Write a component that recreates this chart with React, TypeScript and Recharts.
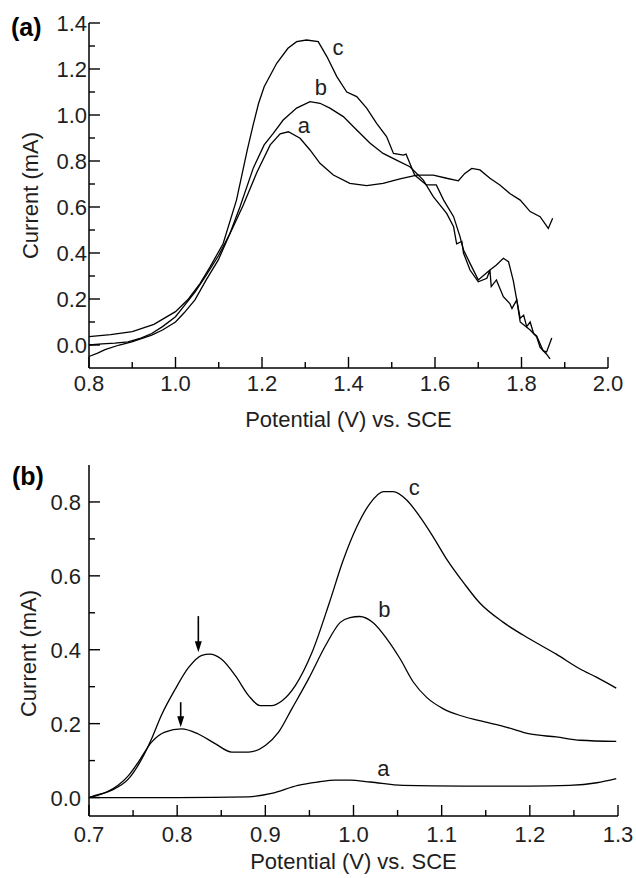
import React from 'react';
import { LineChart, Line, XAxis, YAxis, ReferenceDot, ReferenceLine } from 'recharts';

const FONT = '"Liberation Sans", Arial, Helvetica, sans-serif';
const INK = '#1e1e1e';

// ---------- Panel (a) data ----------
const aPotA = [0.8, 0.83, 0.86, 0.89, 0.92, 0.945, 0.97, 1.0, 1.02, 1.045, 1.07, 1.1, 1.13, 1.157, 1.188, 1.219, 1.242, 1.261, 1.288, 1.311, 1.334, 1.365, 1.403, 1.442, 1.48, 1.519, 1.558, 1.596, 1.627, 1.654, 1.669, 1.685, 1.704, 1.727, 1.75, 1.773, 1.797, 1.82, 1.843, 1.862, 1.872];
const aCurA = [0.0, 0.005, 0.008, 0.014, 0.03, 0.05, 0.08, 0.123, 0.17, 0.23, 0.3, 0.39, 0.5, 0.61, 0.75, 0.87, 0.918, 0.927, 0.899, 0.848, 0.79, 0.739, 0.703, 0.693, 0.703, 0.722, 0.739, 0.739, 0.725, 0.714, 0.746, 0.768, 0.761, 0.725, 0.696, 0.659, 0.63, 0.58, 0.558, 0.507, 0.551];

const aPotB = [0.8, 0.82, 0.837, 0.87, 0.899, 0.945, 0.97, 1.0, 1.02, 1.045, 1.07, 1.099, 1.125, 1.149, 1.18, 1.205, 1.226, 1.249, 1.28, 1.311, 1.334, 1.357, 1.388, 1.419, 1.45, 1.48, 1.511, 1.542, 1.573, 1.596, 1.627, 1.643, 1.65, 1.662, 1.666, 1.681, 1.7, 1.72, 1.727, 1.73, 1.742, 1.758, 1.773, 1.778, 1.789, 1.797, 1.805, 1.812, 1.82, 1.828, 1.835, 1.85, 1.858, 1.87];
const aCurB = [-0.05, -0.035, -0.02, 0.0, 0.014, 0.043, 0.065, 0.1, 0.14, 0.196, 0.28, 0.37, 0.48, 0.6, 0.77, 0.87, 0.92, 0.978, 1.03, 1.058, 1.051, 1.03, 0.993, 0.935, 0.877, 0.833, 0.804, 0.775, 0.717, 0.645, 0.572, 0.514, 0.44, 0.45, 0.399, 0.326, 0.275, 0.29, 0.326, 0.254, 0.283, 0.21, 0.18, 0.159, 0.196, 0.116, 0.13, 0.08, 0.1, 0.05, 0.04, -0.025, -0.03, 0.03];

const aPotC = [0.8, 0.85, 0.9, 0.95, 1.0, 1.03, 1.057, 1.08, 1.11, 1.141, 1.166, 1.18, 1.192, 1.205, 1.234, 1.26, 1.28, 1.303, 1.33, 1.35, 1.373, 1.396, 1.419, 1.442, 1.465, 1.488, 1.504, 1.527, 1.533, 1.553, 1.58, 1.603, 1.62, 1.643, 1.658, 1.662, 1.666, 1.681, 1.7, 1.727, 1.742, 1.758, 1.77, 1.781, 1.789, 1.797, 1.82, 1.835, 1.843, 1.858, 1.866];
const aCurC = [0.036, 0.045, 0.058, 0.09, 0.145, 0.2, 0.268, 0.34, 0.44, 0.63, 0.848, 0.96, 1.05, 1.123, 1.225, 1.29, 1.319, 1.326, 1.319, 1.254, 1.167, 1.1, 1.08, 1.03, 0.964, 0.906, 0.833, 0.826, 0.83, 0.739, 0.696, 0.696, 0.63, 0.558, 0.47, 0.44, 0.413, 0.355, 0.283, 0.326, 0.348, 0.377, 0.362, 0.28, 0.196, 0.1, 0.065, 0.036, -0.01, -0.04, -0.06];

const aXMajor = [0.8, 1.0, 1.2, 1.4, 1.6, 1.8, 2.0];
const aXMinor = [0.9, 1.1, 1.3, 1.5, 1.7, 1.9];
const aYMajor = [0.0, 0.2, 0.4, 0.6, 0.8, 1.0, 1.2, 1.4];
const aYMinor = [0.1, 0.3, 0.5, 0.7, 0.9, 1.1, 1.3];

const aLabelText = ['a', 'b', 'c'];
const aLabelPot = [1.297, 1.336, 1.376];
const aLabelCur = [0.92, 1.087, 1.261];

// ---------- Panel (b) data ----------
const bPotA = [0.7, 0.8, 0.881, 0.907, 0.937, 0.96, 0.979, 0.996, 1.019, 1.056, 1.125, 1.2, 1.245, 1.276, 1.298];
const bCurA = [0.0, 0.0, 0.002, 0.011, 0.033, 0.042, 0.047, 0.047, 0.042, 0.033, 0.031, 0.031, 0.033, 0.04, 0.051];

const bPotB = [0.7, 0.707, 0.72, 0.733, 0.745, 0.756, 0.771, 0.786, 0.805, 0.824, 0.843, 0.862, 0.881, 0.9, 0.915, 0.93, 0.949, 0.968, 0.985, 0.996, 1.007, 1.022, 1.038, 1.053, 1.068, 1.083, 1.102, 1.121, 1.143, 1.174, 1.2, 1.23, 1.257, 1.298];
const bCurB = [0.0, 0.006, 0.015, 0.033, 0.06, 0.096, 0.15, 0.177, 0.186, 0.172, 0.146, 0.123, 0.123, 0.141, 0.177, 0.24, 0.321, 0.41, 0.474, 0.487, 0.49, 0.474, 0.429, 0.375, 0.312, 0.271, 0.24, 0.222, 0.208, 0.19, 0.172, 0.164, 0.155, 0.152];

const bPotC = [0.7, 0.715, 0.726, 0.745, 0.76, 0.771, 0.782, 0.798, 0.813, 0.828, 0.837, 0.85, 0.866, 0.881, 0.894, 0.907, 0.919, 0.934, 0.953, 0.973, 0.988, 1.004, 1.019, 1.034, 1.045, 1.06, 1.075, 1.09, 1.106, 1.125, 1.143, 1.17, 1.2, 1.23, 1.257, 1.276, 1.298];
const bCurC = [0.0, 0.01, 0.02, 0.051, 0.105, 0.159, 0.222, 0.294, 0.352, 0.385, 0.388, 0.375, 0.33, 0.276, 0.249, 0.249, 0.262, 0.303, 0.393, 0.53, 0.64, 0.734, 0.797, 0.828, 0.828, 0.806, 0.761, 0.707, 0.644, 0.581, 0.527, 0.474, 0.429, 0.388, 0.348, 0.325, 0.296];

const bXMajor = [0.7, 0.8, 0.9, 1.0, 1.1, 1.2, 1.3];
const bXMinor = [0.75, 0.85, 0.95, 1.05, 1.15, 1.25];
const bYMajor = [0.0, 0.2, 0.4, 0.6, 0.8];
const bYMinor = [0.1, 0.3, 0.5, 0.7];

const bLabelText = ['a', 'b', 'c'];
const bLabelPot = [1.034, 1.035, 1.069];
const bLabelCur = [0.057, 0.488, 0.819];

const bArrowPot = [0.824, 0.804];
const bArrowFrom = [0.491, 0.258];
const bArrowTo = [0.393, 0.19];

// ---------- helpers ----------
const zip = (xs: number[], ys: number[]) => xs.map((x, i) => ({ x, y: ys[i] }));
const isIn = (arr: number[], v: number) => arr.some((m) => Math.abs(m - v) < 1e-6);
const merge = (a: number[], b: number[]) => [...a, ...b].sort((p, q) => p - q);

const MAJOR = 11;
const MINOR = 6;
const FS = 22;

function makeYTick(majors: number[], gap: number) {
  return (props: any) => {
    const { x, y, payload } = props;
    const major = isIn(majors, payload.value);
    return (
      <g>
        <line x1={x} y1={y} x2={x + (major ? MAJOR : MINOR)} y2={y} stroke="#000" strokeWidth={1.4} />
        {major && (
          <text x={x - gap} y={y + 8} textAnchor="end" fontSize={FS} fontFamily={FONT} fill={INK}>
            {Number(payload.value).toFixed(1)}
          </text>
        )}
      </g>
    );
  };
}

function makeXTick(majors: number[], base: number) {
  return (props: any) => {
    const { x, y, payload } = props;
    const major = isIn(majors, payload.value);
    return (
      <g>
        <line x1={x} y1={y} x2={x} y2={y - (major ? MAJOR : MINOR)} stroke="#000" strokeWidth={1.4} />
        {major && (
          <text x={x} y={y + base} textAnchor="middle" fontSize={FS} fontFamily={FONT} fill={INK}>
            {Number(payload.value).toFixed(1)}
          </text>
        )}
      </g>
    );
  };
}

function xTitle(dy: number) {
  return (props: any) => {
    const vb = props.viewBox;
    return (
      <text x={vb.x + vb.width / 2} y={vb.y + dy} textAnchor="middle" fontSize={FS} fontFamily={FONT} fill={INK}>
        Potential (V) vs. SCE
      </text>
    );
  };
}

function yTitle(dx: number, dyc: number) {
  return (props: any) => {
    const vb = props.viewBox;
    const cx = vb.x + dx;
    const cy = vb.y + vb.height / 2 + dyc;
    return (
      <text
        x={cx}
        y={cy}
        transform={`rotate(-90, ${cx}, ${cy})`}
        textAnchor="middle"
        dominantBaseline="central"
        fontSize={FS}
        fontFamily={FONT}
        fill={INK}
      >
        Current (mA)
      </text>
    );
  };
}

const curveLabel = (txt: string) => (props: any) => (
  <text x={props.cx} y={props.cy} textAnchor="middle" fontSize={FS} fontFamily={FONT} fill={INK}>
    {txt}
  </text>
);

const arrowShape = (props: any) => {
  const { x1, y1, x2, y2 } = props;
  const head = 11;
  return (
    <g>
      <line x1={x1} y1={y1} x2={x2} y2={y2 - head + 2} stroke="#000" strokeWidth={1.6} />
      <polygon points={`${x2 - 3.5},${y2 - head} ${x2 + 3.5},${y2 - head} ${x2},${y2}`} fill="#000" />
    </g>
  );
};

const lineProps = {
  dataKey: 'y',
  stroke: '#000',
  strokeWidth: 1.3,
  dot: false,
  activeDot: false,
  isAnimationActive: false,
} as const;

export default function App() {
  return (
    <div style={{ position: 'absolute', left: 0, top: 0, width: 636, height: 878, background: '#fff' }}>
      <div style={{ position: 'absolute', left: 0, top: 0 }}>
        <LineChart width={636} height={440} margin={{ top: 23, right: 28, bottom: 0, left: 29 }}>
          <XAxis
            type="number"
            dataKey="x"
            domain={[0.8, 2.0]}
            ticks={merge(aXMajor, aXMinor)}
            interval={0}
            height={72}
            tickSize={0}
            tickMargin={0}
            tickLine={false}
            axisLine={{ stroke: '#000', strokeWidth: 1.5 }}
            tick={makeXTick(aXMajor, 23)}
            label={{ content: xTitle(59) }}
          />
          <YAxis
            type="number"
            domain={[-0.1, 1.4]}
            ticks={merge(aYMajor, aYMinor)}
            interval={0}
            width={60}
            tickSize={0}
            tickMargin={0}
            tickLine={false}
            axisLine={{ stroke: '#000', strokeWidth: 1.5 }}
            tick={makeYTick(aYMajor, 2)}
            label={{ content: yTitle(1, 0) }}
          />
          <Line data={zip(aPotA, aCurA)} type="linear" {...lineProps} />
          <Line data={zip(aPotB, aCurB)} type="linear" {...lineProps} />
          <Line data={zip(aPotC, aCurC)} type="linear" {...lineProps} />
          {aLabelText.map((t, i) => (
            <ReferenceDot key={t} x={aLabelPot[i]} y={aLabelCur[i]} r={1} shape={curveLabel(t)} />
          ))}
        </LineChart>
      </div>
      <div style={{ position: 'absolute', left: 0, top: 440 }}>
        <LineChart width={636} height={438} margin={{ top: 25, right: 18, bottom: 0, left: 29 }}>
          <XAxis
            type="number"
            dataKey="x"
            domain={[0.7, 1.3]}
            ticks={merge(bXMajor, bXMinor)}
            interval={0}
            height={62}
            tickSize={0}
            tickMargin={0}
            tickLine={false}
            axisLine={{ stroke: '#000', strokeWidth: 1.5 }}
            tick={makeXTick(bXMajor, 26)}
            label={{ content: xTitle(53) }}
          />
          <YAxis
            type="number"
            domain={[-0.05, 0.9]}
            ticks={merge(bYMajor, bYMinor)}
            interval={0}
            width={60}
            tickSize={0}
            tickMargin={0}
            tickLine={false}
            axisLine={{ stroke: '#000', strokeWidth: 1.5 }}
            tick={makeYTick(bYMajor, 8)}
            label={{ content: yTitle(-1, 13) }}
          />
          <Line data={zip(bPotA, bCurA)} type="monotone" {...lineProps} />
          <Line data={zip(bPotB, bCurB)} type="monotone" {...lineProps} />
          <Line data={zip(bPotC, bCurC)} type="monotone" {...lineProps} />
          {bLabelText.map((t, i) => (
            <ReferenceDot key={t} x={bLabelPot[i]} y={bLabelCur[i]} r={1} shape={curveLabel(t)} />
          ))}
          {bArrowPot.map((p, i) => (
            <ReferenceLine
              key={'arr' + i}
              segment={[
                { x: p, y: bArrowFrom[i] },
                { x: p, y: bArrowTo[i] },
              ]}
              shape={arrowShape}
            />
          ))}
        </LineChart>
      </div>
      <svg width={636} height={878} style={{ position: 'absolute', left: 0, top: 0, pointerEvents: 'none' }}>
        <text x={11} y={36} fontSize={25} fontWeight="bold" fontFamily={FONT} fill="#000">(a)</text>
        <text x={12} y={485} fontSize={25} fontWeight="bold" fontFamily={FONT} fill="#000">(b)</text>
      </svg>
    </div>
  );
}
